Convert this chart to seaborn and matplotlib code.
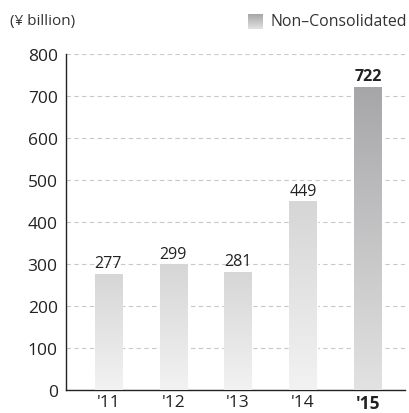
import numpy as np
import pandas as pd
import matplotlib
matplotlib.use('Agg')
import matplotlib.pyplot as plt
import seaborn as sns
from matplotlib.colors import LinearSegmentedColormap

years = ["'11", "'12", "'13", "'14", "'15"]
values = [277, 299, 281, 449, 722]
y_ticks = [0, 100, 200, 300, 400, 500, 600, 700, 800]

sns.set_style('white')
plt.rcParams['font.family'] = ['Open Sans', 'DejaVu Sans']

df = pd.DataFrame({'year': years, 'value': values})

fig = plt.figure(figsize=(4.09, 4.14), dpi=100)
ax = fig.add_axes([66 / 409, 23 / 414, 339 / 409, 336 / 414])

sns.barplot(data=df, x='year', y='value', color='#e0e0e0', width=0.42, ax=ax, zorder=2)

light = LinearSegmentedColormap.from_list('light', ['#f2f2f2', '#d6d6d7'])
dark = LinearSegmentedColormap.from_list('dark', ['#e2e2e3', '#a6a6a8'])
grad = np.linspace(0, 1, 256).reshape(-1, 1)

for i, p in enumerate(ax.patches):
    x0, w, h = p.get_x(), p.get_width(), p.get_height()
    cmap = dark if i == len(values) - 1 else light
    im = ax.imshow(grad, cmap=cmap, aspect='auto', origin='lower',
                   extent=[x0, x0 + w, 0, h], zorder=3)
    im.set_clip_path(p)
    p.set_facecolor('none')
    bold = i == len(values) - 1
    ax.text(x0 + w / 2, h + 6, f'{values[i]}', ha='center', va='bottom',
            fontsize=11.5, color='#222222', fontweight='bold' if bold else 'normal', zorder=4)

ax.set_xlim(-0.65, 4.57)
ax.set_ylim(0, 800)
ax.set_yticks(y_ticks)
ax.yaxis.grid(True, linestyle=(0, (4, 3)), color='#c8c8c8', linewidth=0.8, zorder=0)
ax.set_axisbelow(True)
ax.set_xlabel('')
ax.set_ylabel('')

for s in ['top', 'right']:
    ax.spines[s].set_visible(False)
for s in ['left', 'bottom']:
    ax.spines[s].set_color('#222222')
    ax.spines[s].set_linewidth(1.0)

ax.tick_params(axis='y', length=0, labelsize=12.5, colors='#222222', pad=6)
ax.tick_params(axis='x', length=0, labelsize=12.5, colors='#222222', pad=3)
for lbl in ax.get_xticklabels():
    if lbl.get_text() == years[-1]:
        lbl.set_fontweight('bold')

fig.text(10 / 409, 1 - 22 / 414, '(¥ billion)', fontsize=11, color='#333333', va='center')

# legend swatch with gradient
lax = fig.add_axes([248 / 409, 1 - 30 / 414, 15 / 409, 15 / 414])
lax.imshow(grad, cmap=dark, aspect='auto', origin='lower', extent=[0, 1, 0, 1])
lax.set_axis_off()
fig.text(271 / 409, 1 - 22 / 414, 'Non–Consolidated', fontsize=11.4, color='#333333', va='center')

fig.savefig('out.png', dpi=100)
